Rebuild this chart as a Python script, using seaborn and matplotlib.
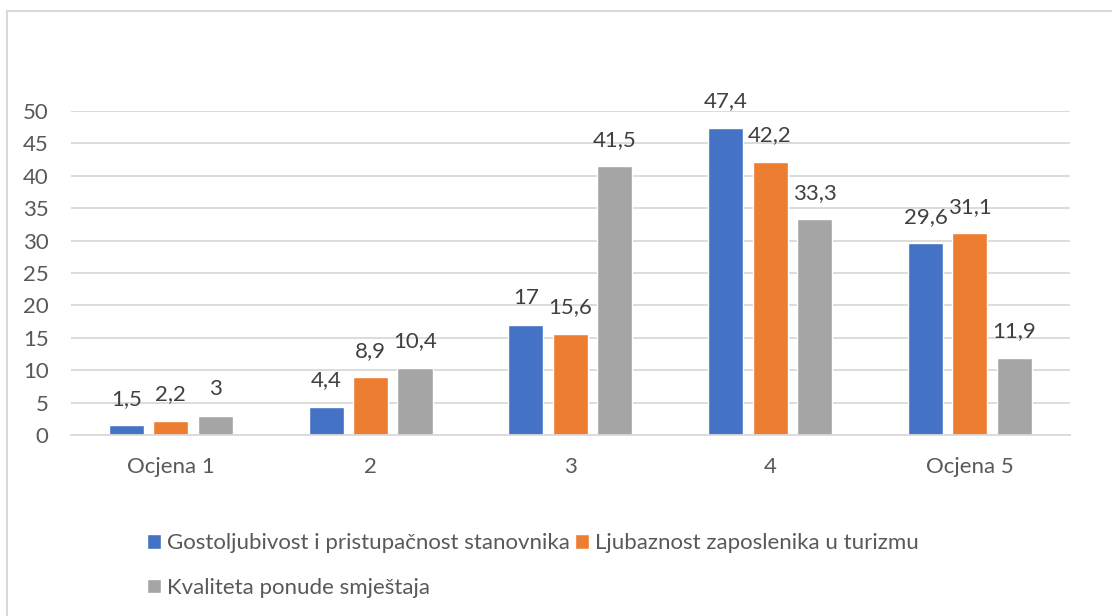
import pandas as pd
import matplotlib
matplotlib.use('Agg')
import matplotlib.pyplot as plt
import seaborn as sns
from matplotlib.patches import Rectangle

categories = ['Ocjena 1', '2', '3', '4', 'Ocjena 5']
series_names = ['Gostoljubivost i pristupačnost stanovnika',
                'Ljubaznost zaposlenika u turizmu',
                'Kvaliteta ponude smještaja']
gostoljubivost = [1.5, 4.4, 17, 47.4, 29.6]
ljubaznost = [2.2, 8.9, 15.6, 42.2, 31.1]
kvaliteta = [3, 10.4, 41.5, 33.3, 11.9]
colors = ['#4472C4', '#ED7D31', '#A5A5A5']

sns.set_style('white')
plt.rcParams['font.family'] = ['Lato', 'DejaVu Sans']
text_color = '#595959'
fs = 16

rows = []
for name, vals in zip(series_names, [gostoljubivost, ljubaznost, kvaliteta]):
    for cat, v in zip(categories, vals):
        rows.append({'ocjena': cat, 'postotak': v, 'serija': name})
df = pd.DataFrame(rows)

fig = plt.figure(figsize=(11.12, 6.16), dpi=100)
ax = fig.add_axes([0.0638, 0.2938, 0.8982, 0.526])

sns.barplot(data=df, x='ocjena', y='postotak', hue='serija', order=categories,
            hue_order=series_names, palette=colors, width=0.667, gap=0.21,
            saturation=1, ax=ax)

ax.set_ylim(0, 50)
ax.set_xlim(-0.5, 4.5)
ax.set_yticks(range(0, 51, 5))
ax.yaxis.grid(True, color='#d9d9d9', linewidth=1.3)
ax.set_axisbelow(True)
for s in ['top', 'right', 'left']:
    ax.spines[s].set_visible(False)
ax.spines['bottom'].set_color('#d9d9d9')
ax.spines['bottom'].set_linewidth(1.3)
ax.tick_params(axis='y', length=0, pad=16, labelsize=fs, labelcolor=text_color)
ax.tick_params(axis='x', length=0, pad=16, labelsize=fs, labelcolor=text_color)
ax.set_xlabel('')
ax.set_ylabel('')

for cont, vals in zip(ax.containers, [gostoljubivost, ljubaznost, kvaliteta]):
    for bar, v in zip(cont, vals):
        ax.annotate(f'{v:g}'.replace('.', ','),
                    (bar.get_x() + bar.get_width() / 2, bar.get_height()),
                    xytext=(0, 19), textcoords='offset points',
                    ha='center', va='center', fontsize=fs, color='#404040')

handles, labels = ax.get_legend_handles_labels()
ax.get_legend().remove()
order = [0, 2, 1]
fig.legend([handles[i] for i in order], [labels[i] for i in order],
           ncol=2, loc='upper left', bbox_to_anchor=(0.132, 0.134),
           frameon=False, fontsize=fs, labelcolor=text_color,
           handlelength=0.64, handleheight=0.64, handletextpad=0.25,
           columnspacing=0.25, labelspacing=1.1, borderpad=0, borderaxespad=0)

fig.patches.append(Rectangle((7 / 1112, -0.05), 1.1, 1 - 11 / 616 + 0.05,
                             transform=fig.transFigure, fill=False,
                             edgecolor='#d9d9d9', linewidth=1.5))

fig.savefig('out.png', dpi=100)
